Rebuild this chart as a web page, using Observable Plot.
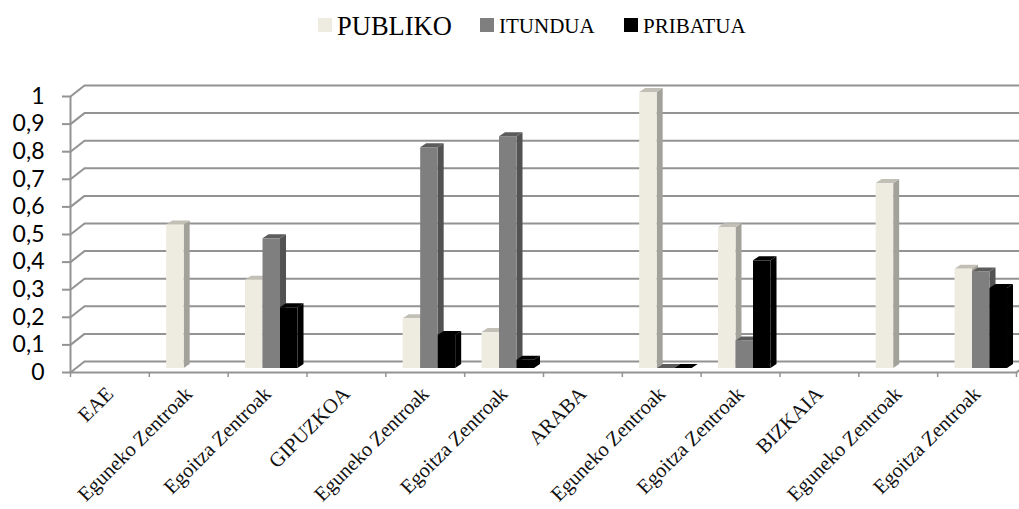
<!DOCTYPE html>
<html>
<head>
<meta charset="utf-8">
<script src="https://cdn.jsdelivr.net/npm/d3@7"></script>
<script src="https://cdn.jsdelivr.net/npm/@observablehq/plot@0.6"></script>
<style>
html,body{margin:0;padding:0;background:#fff;overflow:hidden}
#legend{height:60px;position:relative;font-family:"Liberation Serif",serif;color:#000}
#legend i{position:absolute;top:18px;width:14px;height:14px}
#legend span{position:absolute;line-height:1;white-space:nowrap}
svg{display:block}
</style>
</head>
<body>
<div id="legend"></div>
<div id="chart"></div>
<script>
const categories = ["EAE","Eguneko Zentroak","Egoitza Zentroak","GIPUZKOA","Eguneko Zentroak","Egoitza Zentroak","ARABA","Eguneko Zentroak","Egoitza Zentroak","BIZKAIA","Eguneko Zentroak","Egoitza Zentroak"];
const publiko  = [null,0.52,0.32,null,0.18,0.13,null,1,0.51,null,0.67,0.36];
const itundua  = [null,null,0.47,null,0.80,0.84,null,0,0.10,null,null,0.35];
const pribatua = [null,null,0.22,null,0.12,0.03,null,0,0.39,null,null,0.29];
const seriesNames = ["PUBLIKO","ITUNDUA","PRIBATUA"];
const seriesValues = [publiko,itundua,pribatua];
const frontColors = ["#eeece1","#7f7f7f","#000000"];
const sideColors = ["#a3a29a","#525252","#000000"];
const topColors = ["#c2c0b6","#5c5c5c","#000000"];
const yTicks = [0,0.1,0.2,0.3,0.4,0.5,0.6,0.7,0.8,0.9,1];
const xTicks = d3.range(categories.length + 1);
const labelTicks = categories.map((_, i) => i + 0.5);

const legendItems = [
  {swatch:318,text:337,top:13,size:26.5},
  {swatch:480,text:499,top:16,size:21},
  {swatch:624,text:643,top:16,size:21}
];
const legend = d3.select("#legend");
seriesNames.forEach((n,k)=>{
  const it = legendItems[k];
  legend.append("i").style("left",it.swatch+"px").style("background",frontColors[k]);
  legend.append("span").style("left",it.text+"px").style("top",it.top+"px").style("font-size",it.size+"px").text(n);
});

const depthX = 6, depthY = 4, barOffset = 0.22, barWidth = 0.222;
const gridColor = "#939393";
const rowsFor = k => seriesValues[k].flatMap((v,i)=> v==null ? [] : [{
  x1: i + barOffset + k*barWidth, x2: i + barOffset + (k+1)*barWidth, y: v
}]);
// The oblique top and side faces of a bar, placed through the chart's own scales
const faces = (rows,k) => (index,{x,y}) => {
  const g = d3.create("svg:g");
  for (const r of rows) {
    const a = x(r.x1), b = x(r.x2), t = y(r.y), o = y(0);
    g.append("path").attr("fill",sideColors[k])
      .attr("d",`M${b},${t}L${b+depthX},${t-depthY}L${b+depthX},${o-depthY}L${b},${o}Z`);
    g.append("path").attr("fill",topColors[k])
      .attr("d",`M${a},${t}L${a+depthX},${t-depthY}L${b+depthX},${t-depthY}L${b},${t}Z`);
  }
  return g.node();
};
const wallX = 14/78.83, frontDy = 4/276, backDy = 7/276;
const barMarks = seriesNames.flatMap((n,k)=>{
  const rows = rowsFor(k);
  return [faces(rows,k), Plot.rect(rows,{x1:"x1",x2:"x2",y1:0,y2:"y",fill:frontColors[k]})];
});

const chart = Plot.plot({
  width:1019, height:449,
  marginLeft:70, marginRight:3, marginTop:32, marginBottom:141,
  style:{fontFamily:"'Liberation Serif',serif",background:"#fff",color:"#000"},
  x:{domain:[0,categories.length],label:null},
  y:{domain:[0,1],label:null},
  marks:[
    Plot.ruleY(yTicks,{x1:wallX,x2:categories.length+0.2,dy:-7,stroke:gridColor,strokeWidth:2}),
    Plot.link(yTicks,{x1:0,x2:wallX,y1:d=>d-frontDy,y2:d=>d+backDy,stroke:gridColor,strokeWidth:2}),
    Plot.link([categories.length],{x1:d=>d,x2:d=>d+wallX,y1:-frontDy,y2:backDy,stroke:gridColor,strokeWidth:2}),
    Plot.ruleX([0],{y1:-frontDy,y2:1-frontDy,stroke:gridColor,strokeWidth:2}),
    Plot.ruleY([-frontDy],{x1:0,x2:categories.length,stroke:gridColor,strokeWidth:2}),
    Plot.axisX({ticks:xTicks,tickSize:5,tickFormat:()=>"",dy:4,stroke:gridColor,strokeWidth:1.5,label:null}),
    Plot.axisY({ticks:yTicks,tickSize:8,tickPadding:18,dy:4,stroke:gridColor,strokeWidth:2,
      tickFormat:d=>String(d).replace(".",","),fontFamily:"Lato",fontSize:23,fill:"#000",label:null}),
    ...barMarks,
    Plot.axisX({ticks:labelTicks,tickSize:0,tickPadding:22,tickRotate:-45,fontSize:20.5,fill:"#111",
      tickFormat:d=>categories[Math.floor(d)],label:null})
  ]
});
document.getElementById("chart").append(chart);
</script>
</body>
</html>
